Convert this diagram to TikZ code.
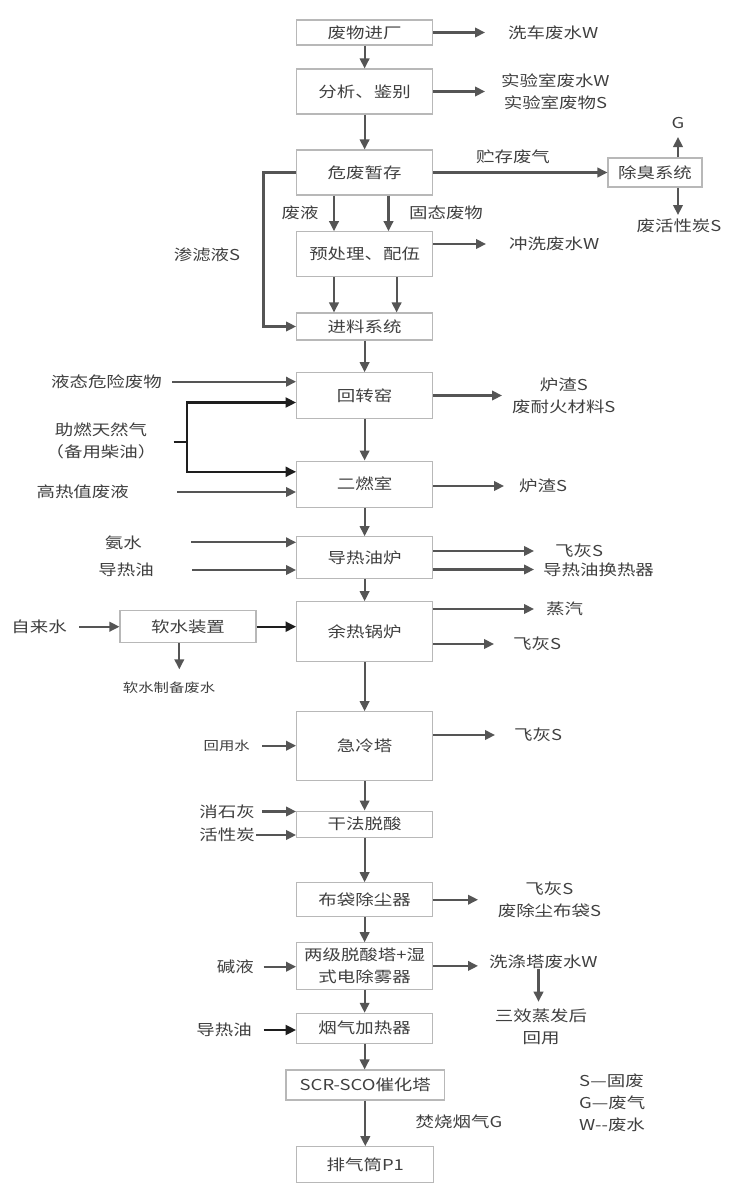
\documentclass[tikz,border=0pt]{standalone}
\usepackage{fontspec}
\setmainfont{Noto Sans CJK SC}[FakeStretch=1.23]
\usetikzlibrary{arrows.meta,calc}
\definecolor{txt}{HTML}{404040}
\definecolor{edgec}{HTML}{B8B8B8}
\definecolor{arrc}{HTML}{555555}
\definecolor{darkc}{HTML}{1E1E1E}
\newcommand\mainfs{\fontsize{15bp}{22bp}\selectfont}
\newcommand\smallfs{\fontsize{12.5bp}{16bp}\selectfont}
\begin{document}
\begin{tikzpicture}[x=1bp,y=-1bp,
  box/.style={draw=edgec, line width=1.1bp, fill=white, minimum width=136bp, inner sep=0pt, font=\mainfs, text=txt, align=center},
  lbl/.style={inner sep=0pt, font=\mainfs, text=txt, align=center},
  slbl/.style={inner sep=0pt, font=\smallfs, text=txt, align=center},
  flow/.style={draw=arrc, line width=2.2bp, -{Triangle[length=10bp,width=9.5bp]}},
  bflow/.style={draw=darkc, line width=2.2bp, -{Triangle[length=10.5bp,width=10bp]}},
  bline/.style={draw=darkc, line width=2.2bp}]
\useasboundingbox[fill=white] (0,0) rectangle (750,1195);

% main column
\node[box, minimum height=25bp] (in) at (364.6,32.5) {废物进厂};
\node[box, minimum height=45bp] (ana) at (364.6,91.5) {分析、鉴别};
\node[box, minimum height=45bp] (store) at (364.6,172.5) {危废暂存};
\node[box, minimum height=45bp] (pre) at (364.6,254.2) {预处理、配伍};
\node[box, minimum height=27bp] (feed) at (364.6,326.5) {进料系统};
\node[box, minimum height=45.6bp] (kiln) at (364.6,395.5) {回转窑};
\node[box, minimum height=46.3bp] (sec) at (364.6,484.2) {二燃室};
\node[box, minimum height=41.6bp] (oil) at (364.6,557.5) {导热油炉};
\node[box, minimum height=60bp] (boil) at (364.6,631.7) {余热锅炉};
\node[box, minimum height=69bp] (quench) at (364.6,746.2) {急冷塔};
\node[box, minimum height=26.3bp] (dry) at (364.6,824.2) {干法脱酸};
\node[box, minimum height=34bp] (bag) at (364.6,899.7) {布袋除尘器};
\node[box, minimum height=46.3bp] (wet) at (364.6,965.9) {两级脱酸塔+湿\\式电除雾器};
\node[box, minimum height=30bp] (heat) at (364.6,1028.3) {烟气加热器};
\node[box, minimum width=158.7bp, minimum height=30bp] (scr) at (365.3,1085) {SCR-SCO催化塔};
\node[box, minimum width=137bp, minimum height=36bp] (stack) at (365.3,1164.7) {排气筒P1};

% side boxes
\node[box, minimum width=94bp, minimum height=29bp] (deo) at (655,172.5) {除臭系统};
\node[box, minimum width=136bp, minimum height=32bp] (soft) at (188,626.7) {软水装置};

% main flow
\draw[flow] (in.south) -- (ana.north);
\draw[flow] (ana.south) -- (store.north);
\draw[flow] ($(store.south)+(-30.6,0)$) -- ($(pre.north)+(-30.6,0)$);
\draw[flow] ($(store.south)+(23.9,0)$) -- ($(pre.north)+(23.9,0)$);
\draw[flow] ($(pre.south)+(-30.6,0)$) -- ($(feed.north)+(-30.6,0)$);
\draw[flow] ($(pre.south)+(32,0)$) -- ($(feed.north)+(32,0)$);
\draw[flow] (feed.south) -- (kiln.north);
\draw[flow] (kiln.south) -- (sec.north);
\draw[flow] (sec.south) -- (oil.north);
\draw[flow] (oil.south) -- (boil.north);
\draw[flow] (boil.south) -- (quench.north);
\draw[flow] (quench.south) -- (dry.north);
\draw[flow] (dry.south) -- (bag.north);
\draw[flow] (bag.south) -- (wet.north);
\draw[flow] (wet.south) -- (heat.north);
\draw[flow] (heat.south) -- (heat.south |- scr.north);
\draw[flow] (scr.south) -- (stack.north);

% labels along the main column
\node[lbl] (fy) at (300,213) {废液};
\node[lbl] (gt) at (446,213) {固态废物};
\node[lbl] (cq) at (513,157) {贮存废气};
\node[lbl] (sl) at (207,255) {渗滤液S};
\node[lbl] (fs) at (459,1121.7) {焚烧烟气G};

% store -> deodor
\draw[flow] (store.east) -- (deo.west);
\node[lbl] (g) at (678,123) {G};
\node[lbl] (hxt) at (679,226) {废活性炭S};
\coordinate (gTip) at (678,137);
\coordinate (hTip) at (678,215);
\draw[flow] (deo.north -| gTip) -- (gTip);
\draw[flow] (deo.south -| hTip) -- (hTip);

% leachate loop
\coordinate (lp) at (263.5,172.5);
\draw[flow] (store.west) -- (lp) |- (feed.west);

% right-hand outputs
\node[lbl, anchor=west] (w1) at (508,32.5) {洗车废水W};
\draw[flow, shorten >=23bp] (in.east) -- (in.east -| w1.west);
\node[lbl, anchor=west] (lab) at (501,91.5) {实验室废水W\\实验室废物S};
\draw[flow, shorten >=16bp] (ana.east) -- (ana.east -| lab.west);
\node[lbl, anchor=west] (cx) at (509,244) {冲洗废水W};
\draw[flow, shorten >=23bp] (pre.east |- cx.west) -- (cx.west);
\node[lbl, anchor=west] (zs) at (512,395.5) {炉渣S\\废耐火材料S};
\draw[flow, shorten >=10bp] (kiln.east) -- (kiln.east -| zs.west);
\node[lbl, anchor=west] (lz2) at (519,486) {炉渣S};
\draw[flow, shorten >=15bp] (sec.east |- lz2.west) -- (lz2.west);
\node[lbl, anchor=west] (fa1) at (555,551) {飞灰S};
\draw[flow, shorten >=21bp] (oil.east |- fa1.west) -- (fa1.west);
\node[lbl, anchor=west] (hx) at (543,569.5) {导热油换热器};
\draw[flow, shorten >=9bp] (oil.east |- hx.west) -- (hx.west);
\node[lbl, anchor=west] (zq) at (546,609) {蒸汽};
\draw[flow, shorten >=12bp] (boil.east |- zq.west) -- (zq.west);
\node[lbl, anchor=west] (fa2) at (513,644) {飞灰S};
\draw[flow, shorten >=19bp] (boil.east |- fa2.west) -- (fa2.west);
\node[lbl, anchor=west] (fa3) at (514,735) {飞灰S};
\draw[flow, shorten >=19bp] (quench.east |- fa3.west) -- (fa3.west);
\node[lbl, anchor=west] (fa4) at (497.6,899.7) {飞灰S\\废除尘布袋S};
\draw[flow, shorten >=19.6bp] (bag.east) -- (bag.east -| fa4.west);
\node[lbl, anchor=west] (xd) at (489,962) {洗涤塔废水W};
\draw[flow, shorten >=11bp] (wet.east) -- (wet.east -| xd.west);
\node[lbl] (sx) at (541,1026.5) {三效蒸发后\\回用};
\coordinate (sxTop) at (538.5,1001.7);
\draw[flow] (xd.south -| sxTop) -- (sxTop);

% left-hand inputs
\node[lbl, anchor=east] (ly) at (162,381.7) {液态危险废物};
\draw[flow, shorten <=10bp] (ly.east) -- (ly.east -| kiln.west);
\node[lbl] (zr) at (101,441) {助燃天然气\\（备用柴油）};
\coordinate (jn) at (187,442);
\draw[bline, shorten <=17bp] (zr.east |- jn) -- (jn);
\draw[bflow] (jn) |- ($(kiln.west)+(0,7)$);
\draw[bflow] (jn) |- ($(sec.west)+(0,-12.4)$);
\node[lbl, anchor=east] (gr) at (129,492) {高热值废液};
\draw[flow, shorten <=48bp] (gr.east) -- (gr.east -| sec.west);
\node[lbl, anchor=east] (as) at (142,542.3) {氨水};
\draw[flow, shorten <=49bp] (as.east) -- (as.east -| oil.west);
\node[lbl, anchor=east] (dr) at (154,570) {导热油};
\draw[flow, shorten <=38bp] (dr.east) -- (dr.east -| oil.west);
\node[lbl, anchor=east] (zl) at (67,626.7) {自来水};
\draw[flow, shorten <=12bp] (zl.east) -- (soft.west);
\draw[bflow] (soft.east) -- (soft.east -| boil.west);
\node[slbl] (rs) at (169,688) {软水制备废水};
\coordinate (rsTip) at (179.3,669.3);
\draw[flow] (soft.south -| rsTip) -- (rsTip);
\node[slbl, anchor=east] (hy) at (250,745.7) {回用水};
\draw[flow, shorten <=12bp] (hy.east) -- (hy.east -| quench.west);
\node[lbl, anchor=east] (xs) at (255,811.5) {消石灰};
\draw[flow, shorten <=7bp] (xs.east) -- (xs.east -| dry.west);
\node[lbl, anchor=east] (hxx) at (255,835) {活性炭};
\draw[flow, shorten <=1bp] (hxx.east) -- (hxx.east -| dry.west);
\node[lbl, anchor=east] (jy) at (254,966.7) {碱液};
\draw[flow, shorten <=9.5bp] (jy.east) -- (jy.east -| wet.west);
\node[lbl, anchor=east] (dr2) at (252,1030) {导热油};
\draw[bflow, shorten <=11.5bp] (dr2.east) -- (dr2.east -| heat.west);

% legend
\node[lbl, anchor=west, align=left] (lg) at (579,1102.5) {S—固废\\G—废气\\W-{}-废水};
\end{tikzpicture}
\end{document}
